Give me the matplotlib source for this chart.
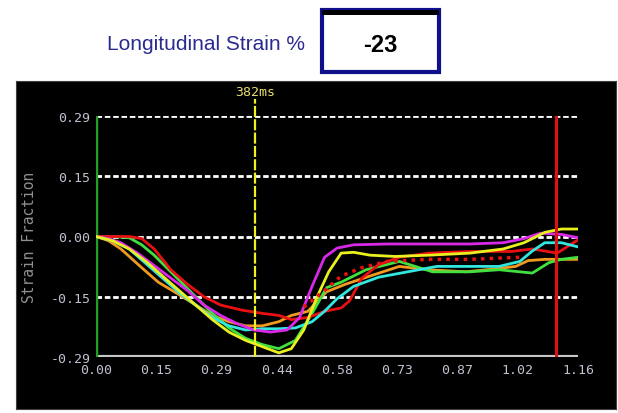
import matplotlib
matplotlib.use('Agg')
import matplotlib.pyplot as plt
from matplotlib.patches import Rectangle

# tick positions / labels
x_ticks = [0.0, 0.145, 0.29, 0.435, 0.58, 0.725, 0.87, 1.015, 1.16]
x_labels = ['0.00', '0.15', '0.29', '0.44', '0.58', '0.73', '0.87', '1.02', '1.16']
y_ticks = [-0.29, -0.145, 0.0, 0.145, 0.29]
y_labels = ['-0.29', '-0.15', '0.00', '0.15', '0.29']

marker_ms = 0.382      # yellow cursor, 382ms
end_marker = 1.107     # red vertical line
strain_value = '-23'

# strain curves
magenta_x = [0, 0.03, 0.06, 0.10, 0.14, 0.18, 0.22, 0.26, 0.30, 0.34, 0.38, 0.42, 0.46, 0.49,
             0.52, 0.55, 0.58, 0.62, 0.70, 0.80, 0.90, 0.98, 1.03, 1.07, 1.12, 1.16]
magenta_y = [0, -0.005, -0.015, -0.04, -0.07, -0.10, -0.13, -0.165, -0.19, -0.21, -0.225, -0.23,
             -0.225, -0.195, -0.12, -0.05, -0.028, -0.02, -0.018, -0.018, -0.018, -0.015, -0.005,
             0.008, 0.005, -0.003]

yellow_x = [0, 0.04, 0.08, 0.12, 0.16, 0.20, 0.24, 0.28, 0.32, 0.36, 0.40, 0.44, 0.47, 0.50,
            0.53, 0.56, 0.59, 0.62, 0.66, 0.72, 0.80, 0.90, 0.98, 1.03, 1.08, 1.12, 1.16]
yellow_y = [0, -0.01, -0.03, -0.06, -0.095, -0.13, -0.165, -0.2, -0.23, -0.25, -0.265, -0.28,
            -0.27, -0.225, -0.15, -0.085, -0.04, -0.038, -0.045, -0.048, -0.045, -0.04, -0.03,
            -0.015, 0.01, 0.018, 0.018]

cyan_x = [0, 0.04, 0.08, 0.12, 0.16, 0.20, 0.24, 0.28, 0.32, 0.36, 0.40, 0.44, 0.48, 0.52,
          0.55, 0.58, 0.62, 0.68, 0.75, 0.82, 0.90, 0.97, 1.02, 1.05, 1.08, 1.12, 1.16]
cyan_y = [0, -0.01, -0.03, -0.065, -0.10, -0.135, -0.165, -0.195, -0.215, -0.225, -0.222, -0.222,
          -0.22, -0.205, -0.18, -0.15, -0.12, -0.098, -0.085, -0.072, -0.072, -0.072, -0.06,
          -0.035, -0.015, -0.015, -0.025]

red_x = [0, 0.04, 0.08, 0.11, 0.14, 0.18, 0.22, 0.26, 0.30, 0.35, 0.40, 0.44, 0.47, 0.51,
         0.55, 0.59, 0.61, 0.64, 0.68, 0.73, 0.80, 0.90, 1.00, 1.05, 1.08, 1.11, 1.16]
red_y = [0, 0, 0, -0.005, -0.03, -0.08, -0.115, -0.145, -0.165, -0.177, -0.185, -0.19, -0.2,
         -0.195, -0.18, -0.172, -0.155, -0.1, -0.068, -0.05, -0.04, -0.036, -0.036, -0.03,
         -0.035, -0.04, -0.008]

green_x = [0, 0.04, 0.08, 0.11, 0.14, 0.17, 0.20, 0.24, 0.28, 0.32, 0.36, 0.40, 0.44, 0.48,
           0.52, 0.555, 0.59, 0.65, 0.73, 0.81, 0.90, 0.97, 1.02, 1.05, 1.09, 1.12, 1.16]
green_y = [0, 0, -0.003, -0.02, -0.045, -0.075, -0.105, -0.145, -0.185, -0.22, -0.245, -0.26,
           -0.27, -0.25, -0.185, -0.123, -0.11, -0.08, -0.06, -0.085, -0.085, -0.08, -0.085,
           -0.088, -0.063, -0.055, -0.05]

orange_x = [0, 0.03, 0.06, 0.08, 0.11, 0.15, 0.20, 0.24, 0.28, 0.32, 0.36, 0.40, 0.44, 0.47,
            0.51, 0.555, 0.60, 0.66, 0.73, 0.80, 0.89, 0.96, 1.01, 1.04, 1.08, 1.12, 1.16]
orange_y = [0, -0.01, -0.03, -0.048, -0.075, -0.11, -0.14, -0.165, -0.19, -0.205, -0.215, -0.215,
            -0.205, -0.19, -0.18, -0.133, -0.115, -0.095, -0.072, -0.08, -0.085, -0.078, -0.072,
            -0.058, -0.055, -0.055, -0.055]

avg_x = [0.50, 0.55, 0.59, 0.64, 0.70, 0.80, 0.90, 0.97, 1.02]
avg_y = [-0.17, -0.13, -0.095, -0.075, -0.06, -0.055, -0.055, -0.052, -0.05]

curves = [
    (orange_x, orange_y, '#f09a20'),
    (green_x, green_y, '#40e040'),
    (red_x, red_y, '#e81010'),
    (cyan_x, cyan_y, '#30e8e0'),
    (magenta_x, magenta_y, '#d828e8'),
    (yellow_x, yellow_y, '#e8f020'),
]

fig = plt.figure(figsize=(6.18, 4.14), dpi=100)
fig.patch.set_facecolor('white')

# black panel behind the plot (an axes of its own so it sits under the chart)
bg = fig.add_axes([16 / 618, 4 / 414, 600 / 618, 328 / 414], zorder=-5)
bg.set_facecolor('black')
bg.set_xticks([])
bg.set_yticks([])
for s in bg.spines.values():
    s.set_color('#404040')

ax = fig.add_axes([96 / 618, 56 / 414, 482 / 618, 241 / 414], zorder=1)
ax.set_facecolor('black')
ax.set_xlim(0, 1.16)
ax.set_ylim(-0.29, 0.29)
for s in ax.spines.values():
    s.set_visible(False)

# dotted white grid
for yv in [0.29, 0.145, 0.0, -0.145]:
    ax.axhline(yv, color='white', lw=2, ls=(0, (2, 1)), zorder=1)
ax.axhline(-0.29, color='#c8c8c8', lw=3, zorder=2)
ax.axvline(0, color='#20a020', lw=2.5, zorder=2)
ax.axvline(end_marker, color='#e01010', lw=2.2, zorder=5)
ax.plot([marker_ms, marker_ms], [-0.29, 0.33], color='#f0f020', lw=1.6,
        ls=(0, (5, 1)), clip_on=False, zorder=5)
ax.text(marker_ms, 0.333, '382ms', color='#e8e070', fontsize=9.5,
        family='DejaVu Sans Mono', ha='center', va='bottom')

for cx, cy, col in curves:
    ax.plot(cx, cy, color=col, lw=2, zorder=3)
ax.plot(avg_x, avg_y, color='#e81010', lw=2.5, ls=(0, (1, 1.5)), zorder=4)

ax.set_xticks(x_ticks)
ax.set_xticklabels(x_labels)
ax.set_yticks(y_ticks)
ax.set_yticklabels(y_labels)
ax.tick_params(colors='#c0c0d0', length=0, labelsize=9.5, pad=4)
for lab in ax.get_xticklabels() + ax.get_yticklabels():
    lab.set_family('DejaVu Sans Mono')
ax.set_ylabel('Strain Fraction', color='#909090', fontsize=10.5,
              family='DejaVu Sans Mono', labelpad=10)

# header
fig.text(107 / 618, 1 - 45 / 414, 'Longitudinal Strain %', color='#2a2a90',
         fontsize=15, family='Liberation Sans', ha='left', va='center')
fig.patches.append(Rectangle((322 / 618, 1 - 73 / 414), 117 / 618, 62 / 414,
                             transform=fig.transFigure, facecolor='white',
                             edgecolor='#10108a', lw=3, zorder=1))
fig.patches.append(Rectangle((322 / 618, 1 - 16 / 414), 117 / 618, 5 / 414,
                             transform=fig.transFigure, facecolor='black',
                             edgecolor='none', zorder=2))
fig.text(380 / 618, 1 - 45 / 414, strain_value, color='black', fontsize=17,
         weight='bold', family='Liberation Sans', ha='center', va='center')

fig.savefig('out.png', dpi=100, facecolor=fig.get_facecolor())
